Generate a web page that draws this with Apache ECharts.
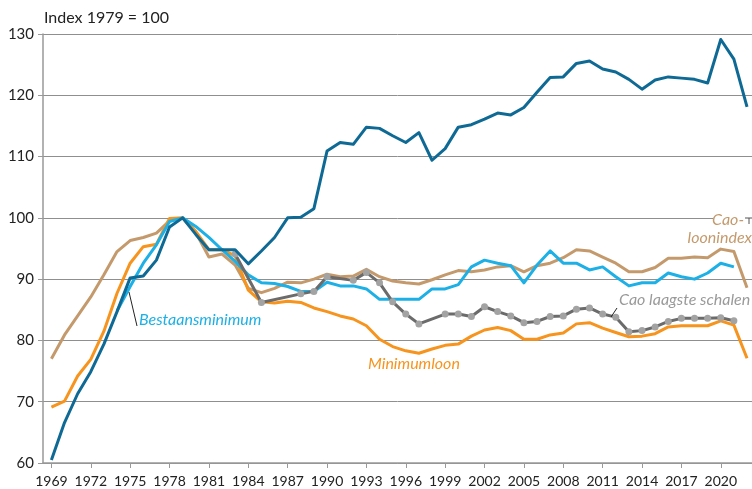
<!DOCTYPE html>
<html><head><meta charset="utf-8">
<script src="https://cdn.jsdelivr.net/npm/echarts@6/dist/echarts.min.js"></script>
<style>html,body{margin:0;padding:0;background:#fff}#c{width:752px;height:489px}</style>
</head><body><div id="c"></div>
<script>
const years = [];
for (let y = 1969; y <= 2022; y++) years.push(y);
const tickYears = [1969,1972,1975,1978,1981,1984,1987,1990,1993,1996,1999,2002,2005,2008,2011,2014,2017,2020];
const yTicks = [60,70,80,90,100,110,120,130];

// Dark blue (top line)
const darkBlue = [60.5,66.6,71.3,74.9,79.4,84.7,90.2,90.5,93.1,98.5,100,97.3,94.8,94.8,94.8,92.5,94.6,96.8,100.0,100.1,101.5,110.9,112.3,112.0,114.8,114.6,113.4,112.3,113.9,109.4,111.3,114.8,115.2,116.1,117.1,116.8,118.0,120.5,122.9,123.0,125.2,125.6,124.3,123.8,122.6,121.0,122.5,123.0,122.8,122.6,122.0,129.1,125.9,118.1];
// Cao-loonindex (tan)
const caoLoonindex = [77.0,80.9,84.0,87.1,90.7,94.5,96.3,96.8,97.5,99.5,100,97.6,93.6,94.1,92.3,88.5,87.8,88.5,89.5,89.4,90.0,90.8,90.4,90.5,91.6,90.4,89.7,89.4,89.2,89.9,90.7,91.4,91.2,91.5,92.0,92.2,91.2,92.2,92.6,93.5,94.8,94.6,93.6,92.6,91.2,91.2,91.9,93.4,93.4,93.6,93.5,94.9,94.5,88.6];
// Bestaansminimum (light blue)
const bestaansminimum = [null,null,null,null,null,84.8,88.8,92.6,95.6,99.4,100,98.6,96.8,94.8,92.9,90.7,89.4,89.3,88.8,88.0,88.0,89.5,88.9,88.9,88.4,86.7,86.7,86.7,86.7,88.4,88.4,89.1,92.0,93.1,92.6,92.2,89.4,92.3,94.6,92.6,92.6,91.5,92.0,90.4,88.9,89.4,89.4,91.0,90.4,90.0,91.0,92.6,92.0,null];
// Minimumloon (orange)
const minimumloon = [69.1,70.1,74.2,76.9,81.5,87.7,92.6,95.3,95.7,99.9,100,97.8,94.8,94.8,93.8,88.2,86.3,86.1,86.4,86.2,85.3,84.7,84.0,83.5,82.4,80.2,79.0,78.3,77.9,78.6,79.2,79.4,80.7,81.7,82.1,81.6,80.2,80.2,80.9,81.2,82.7,82.9,82.0,81.3,80.6,80.7,81.1,82.2,82.4,82.4,82.4,83.2,82.5,77.1];
// Cao laagste schalen (grey, with markers)
const caoLaagsteSchalen = [null,null,null,null,null,null,null,null,null,null,null,null,null,null,94.1,null,86.2,null,null,87.6,88.0,90.4,null,89.8,91.1,89.4,86.3,84.3,82.7,null,84.3,84.3,83.9,85.5,84.7,84.0,82.9,83.1,83.9,84.0,85.1,85.3,84.3,83.8,81.4,81.6,82.2,83.1,83.6,83.6,83.6,83.7,83.2,null];

const pairs = arr => years.map((y, i) => [y, arr[i]]);
const FONT = 'Lato';

const chart = echarts.init(document.getElementById('c'), null, {renderer: 'canvas'});
const lineS = (name, data, color, z, extra) => Object.assign({
  name, type: 'line', data: pairs(data), z,
  showSymbol: false, symbol: 'none', connectNulls: true,
  lineStyle: {color, width: 3, join: 'round'},
  itemStyle: {color}, animation: false, silent: true
}, extra || {});

chart.setOption({
  animation: false,
  grid: {left: 43, right: 0, top: 34, bottom: 26, containLabel: false},
  xAxis: {
    type: 'value', min: 1968.36, max: 2022.38,
    axisLine: {show: true, onZero: false, lineStyle: {color: '#999', width: 1.5}},
    axisTick: {show: true, length: 5, customValues: tickYears, lineStyle: {color: '#999', width: 1}},
    axisLabel: {customValues: tickYears, formatter: v => String(v), color: '#222', fontFamily: FONT, fontSize: 14, margin: 11},
    splitLine: {show: false}
  },
  yAxis: {
    type: 'value', min: 60, max: 130, interval: 10,
    axisLine: {show: true, lineStyle: {color: '#999', width: 1.5}},
    axisTick: {show: true, length: 5, lineStyle: {color: '#999'}},
    axisLabel: {color: '#222', fontFamily: FONT, fontSize: 15, margin: 9},
    splitLine: {show: true, lineStyle: {color: '#8f8f8f', width: 1}}
  },
  series: [
    lineS('Cao-loonindex', caoLoonindex, '#c49a6c', 2),
    lineS('Minimumloon', minimumloon, '#f7941d', 3),
    lineS('Bestaansminimum', bestaansminimum, '#1cb0e6', 4),
    lineS('Cao laagste schalen', caoLaagsteSchalen, '#6b6b6b', 5, {
      showSymbol: true, symbol: 'circle', symbolSize: 7,
      itemStyle: {color: '#a3a3a3', borderWidth: 0}
    }),
    lineS('Index', darkBlue, '#0e6a95', 6)
  ],
  graphic: [
    {type: 'text', left: 44, top: 10, style: {text: 'Index 1979 = 100', fill: '#222', font: '16px Lato'}},
    {type: 'line', shape: {x1: 137, y1: 326, x2: 129, y2: 292}, style: {stroke: '#222', lineWidth: 1}, z: 20},
    {type: 'text', left: 139, top: 312, style: {text: 'Bestaansminimum', fill: '#1cb0e6', font: 'italic 16px Lato'}, z: 20},
    {type: 'text', left: 368, top: 356, style: {text: 'Minimumloon', fill: '#f7941d', font: 'italic 16px Lato'}, z: 20},
    {type: 'line', shape: {x1: 611, y1: 317, x2: 617, y2: 308}, style: {stroke: '#222', lineWidth: 1}, z: 20},
    {type: 'text', left: 619, top: 292, style: {text: 'Cao laagste schalen', fill: '#9a9a9a', font: 'italic 16px Lato', backgroundColor: '#fff'}, z: 20},
    {type: 'rect', shape: {x: 713, y: 211, width: 39, height: 14}, style: {fill: '#fff'}, z: 19},
    {type: 'text', right: 8, top: 212, style: {text: 'Cao-', fill: '#c49a6c', font: 'italic 16px Lato', align: 'right'}, z: 20},
    {type: 'text', right: 0, top: 230, style: {text: 'loonindex', fill: '#c49a6c', font: 'italic 16px Lato', align: 'right'}, z: 20},
    {type: 'polyline', shape: {points: [[745, 218], [752, 218]]}, style: {stroke: '#555', lineWidth: 1}, z: 21},
    {type: 'polyline', shape: {points: [[749, 218], [749, 224]]}, style: {stroke: '#555', lineWidth: 1}, z: 21}
  ]
});
</script></body></html>
